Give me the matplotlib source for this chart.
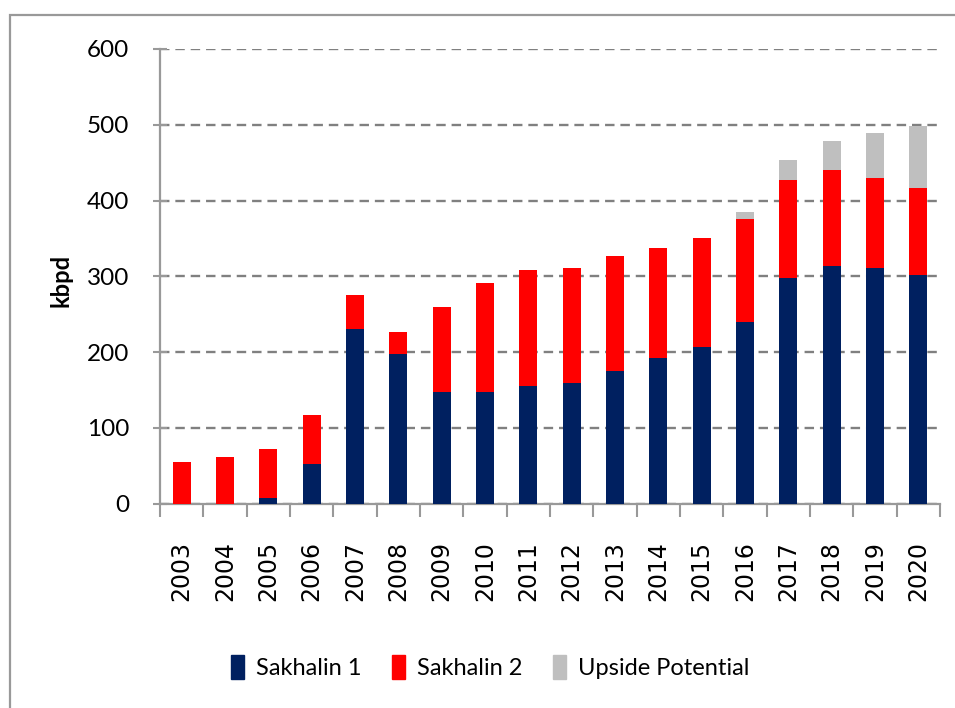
import matplotlib.pyplot as plt
import matplotlib.patches as mpatches
import numpy as np

years = ['2003', '2004', '2005', '2006', '2007', '2008', '2009', '2010', '2011',
         '2012', '2013', '2014', '2015', '2016', '2017', '2018', '2019', '2020']
sakhalin1 = [0, 0, 7, 52, 230, 198, 147, 147, 155, 159, 175, 192, 207, 240, 298, 314, 311, 302]
sakhalin2 = [55, 62, 65, 65, 45, 29, 113, 144, 153, 152, 152, 145, 143, 136, 129, 126, 119, 115]
upside = [0, 0, 0, 0, 0, 0, 0, 0, 0, 0, 0, 0, 0, 9, 26, 39, 59, 81]

c_s1 = '#002060'
c_s2 = '#ff0000'
c_up = '#bfbfbf'
grey = '#808080'

fig = plt.figure(figsize=(9.55, 7.08), dpi=100)
ax = fig.add_axes([0.1675, 0.2886, 0.8168, 0.6422])

x = np.arange(len(years))
s1 = np.array(sakhalin1)
s2 = np.array(sakhalin2)
up = np.array(upside)
w = 0.42
ax.bar(x, s1, w, color=c_s1, label='Sakhalin 1', zorder=3)
ax.bar(x, s2, w, bottom=s1, color=c_s2, label='Sakhalin 2', zorder=3)
ax.bar(x, up, w, bottom=s1 + s2, color=c_up, label='Upside Potential', zorder=3)

ax.set_xlim(-0.5, len(years) - 0.5)
ax.set_ylim(0, 600)
ax.set_yticks(range(0, 601, 100))
ax.yaxis.grid(True, color=grey, linestyle=(0, (4, 2.5)), linewidth=1.7, zorder=0)
ax.set_axisbelow(True)

for s in ['top', 'right']:
    ax.spines[s].set_visible(False)
for s in ['left', 'bottom']:
    ax.spines[s].set_color('#999999')
    ax.spines[s].set_linewidth(1.6)

ax.tick_params(axis='y', direction='inout', length=10, width=1.5, color='#999999',
               labelsize=17.5, pad=17)
for lab in ax.get_yticklabels():
    lab.set_fontfamily('Lato')

ax.set_xticks(x)
ax.set_xticklabels(years, rotation=90, fontsize=17, fontfamily='DejaVu Sans')
ax.set_xticks(np.arange(-0.5, len(years), 1), minor=True)
ax.tick_params(axis='x', which='major', length=0, pad=27)
ax.tick_params(axis='x', which='minor', length=9, width=1.5, color='#999999')

fig.text(61 / 955, 1 - 280 / 708, 'kbpd', rotation=90, ha='center', va='center',
         fontsize=17, fontweight='bold', fontfamily='Lato')

handles = [mpatches.Patch(color=c) for c in (c_s1, c_s2, c_up)]
fig.legend(handles, ['Sakhalin 1', 'Sakhalin 2', 'Upside Potential'],
           loc='center', bbox_to_anchor=(0.513, 1 - 667 / 708), ncol=3, frameon=False,
           prop={'family': 'Lato', 'size': 17}, handlelength=0.55, handleheight=1.2,
           handletextpad=0.5, columnspacing=1.3)

border = mpatches.Rectangle((10 / 955, -0.1), 1.2, 1 - 15 / 708 + 0.1,
                            transform=fig.transFigure, fill=False,
                            edgecolor='#999999', linewidth=1.6)
fig.patches.append(border)

fig.savefig('out.png', dpi=100)
